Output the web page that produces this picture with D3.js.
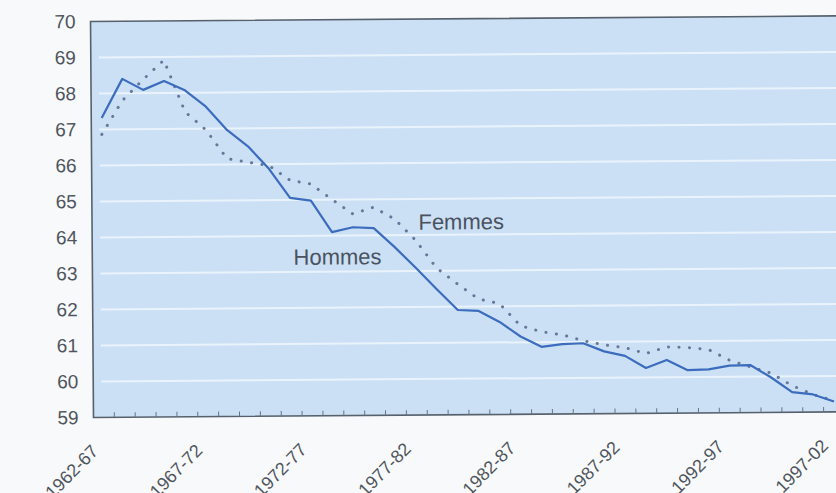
<!DOCTYPE html>
<html>
<head>
<meta charset="utf-8">
<script src="https://cdn.jsdelivr.net/npm/d3@7"></script>
<style>
  body { margin: 0; background: #f8f9fa; }
  svg { display: block; }
  .ylab text, .xlab { font-family: 'Liberation Sans', Arial, sans-serif; fill: #4f555d; }
  .serie { font-family: 'Liberation Sans', Arial, sans-serif; fill: #4a5260; font-size: 22px; }
</style>
</head>
<body>
<svg id="chart" width="836" height="493"></svg>
<script>
/* global d3 */
// one category per rolling 5-year period
let categories = [
  '1962-67', '1963-68', '1964-69', '1965-70', '1966-71',
  '1967-72', '1968-73', '1969-74', '1970-75', '1971-76',
  '1972-77', '1973-78', '1974-79', '1975-80', '1976-81',
  '1977-82', '1978-83', '1979-84', '1980-85', '1981-86',
  '1982-87', '1983-88', '1984-89', '1985-90', '1986-91',
  '1987-92', '1988-93', '1989-94', '1990-95', '1991-96',
  '1992-97', '1993-98', '1994-99', '1995-00', '1996-01',
  '1997-02',
];
let tickLabels = ['1962-67', '1967-72', '1972-77', '1977-82', '1982-87', '1987-92', '1992-97', '1997-02'];
let yTicks = [59, 60, 61, 62, 63, 64, 65, 66, 67, 68, 69, 70];

let hommes = [
  67.32, 68.40, 68.09, 68.33, 68.07, 67.61, 66.96, 66.50, 65.87, 65.06,
  64.98, 64.10, 64.23, 64.20, 63.67, 63.09, 62.49, 61.91, 61.88, 61.57,
  61.16, 60.87, 60.94, 60.96, 60.73, 60.60, 60.26, 60.48, 60.19, 60.21,
  60.31, 60.32, 59.97, 59.56, 59.49, 59.29,
];
let femmes = [
  66.86, 67.80, 68.38, 68.91, 67.47, 66.96, 66.16, 66.06, 65.96, 65.55,
  65.44, 65.01, 64.60, 64.78, 64.45, 63.86, 63.08, 62.63, 62.21, 62.08,
  61.46, 61.29, 61.20, 61.03, 60.91, 60.83, 60.66, 60.84, 60.82, 60.76,
  60.46, 60.27, 60.09, 59.74, 59.49, 59.31,
];

let svg = d3.select('#chart');
// the scanned page is slightly tilted
let g = svg.append('g').attr('transform', 'rotate(-0.43, 92, 417.5)');

let x = d3.scaleBand().domain(categories).range([93.5, 844.5]);
let y = d3.scaleLinear().domain([59, 70]).range([417.5, 21.5]);
let cx = (c) => x(c) + x.bandwidth() / 2;

// plot background
g.append('rect')
  .attr('x', x.range()[0])
  .attr('y', y(70))
  .attr('width', x.range()[1] - x.range()[0])
  .attr('height', y(59) - y(70))
  .attr('fill', '#cbe0f5');

// gridlines
g.append('g').selectAll('line')
  .data(yTicks.filter((d) => d > 59 && d < 70))
  .join('line')
  .attr('x1', x.range()[0] + 8)
  .attr('x2', x.range()[1])
  .attr('y1', (d) => y(d))
  .attr('y2', (d) => y(d))
  .attr('stroke', '#eaf3fc')
  .attr('stroke-width', 2);

// borders
g.append('path')
  .attr('d', `M${x.range()[1]},${y(70)}H${x.range()[0]}V${y(59)}H${x.range()[1]}`)
  .attr('fill', 'none')
  .attr('stroke', '#56616d')
  .attr('stroke-width', 1.6);

// small ticks between categories, inside the plot
g.append('g').selectAll('line')
  .data(categories.slice(1))
  .join('line')
  .attr('x1', (d) => x(d))
  .attr('x2', (d) => x(d))
  .attr('y1', y(59))
  .attr('y2', y(59) - 5)
  .attr('stroke', '#6a7480')
  .attr('stroke-width', 1);

// y axis labels
let yAxis = g.append('g')
  .attr('class', 'ylab')
  .attr('transform', `translate(${x.range()[0]},0)`)
  .call(d3.axisLeft(y).tickValues(yTicks).tickSize(0).tickPadding(15).tickFormat(d3.format('d')));
yAxis.select('.domain').remove();
yAxis.selectAll('text').style('font-size', '19px');

// x axis labels, rotated (the page is cut under them)
g.append('g').selectAll('text')
  .data(tickLabels)
  .join('text')
  .attr('class', 'xlab')
  .attr('text-anchor', 'end')
  .attr('transform', (d) => `translate(${cx(d) - 5},${y(59) + 35}) rotate(-45)`)
  .style('font-size', '18px')
  .text((d) => d);

let line = d3.line()
  .x((d, i) => cx(categories[i]))
  .y((d) => y(d));

g.append('path')
  .datum(femmes)
  .attr('d', line)
  .attr('fill', 'none')
  .attr('stroke', '#66789a')
  .attr('stroke-width', 3)
  .attr('stroke-linecap', 'round')
  .attr('stroke-dasharray', '0.1 10.4');

g.append('path')
  .datum(hommes)
  .attr('d', line)
  .attr('fill', 'none')
  .attr('stroke', '#3b6cbd')
  .attr('stroke-width', 2.2)
  .attr('stroke-linejoin', 'round');

// series names
g.append('text').attr('class', 'serie')
  .attr('x', cx(categories[15]) + 3)
  .attr('y', y(64.15))
  .text('Femmes');
g.append('text').attr('class', 'serie')
  .attr('x', cx(categories[9]) + 3)
  .attr('y', y(63.2))
  .text('Hommes');
</script>
</body>
</html>
